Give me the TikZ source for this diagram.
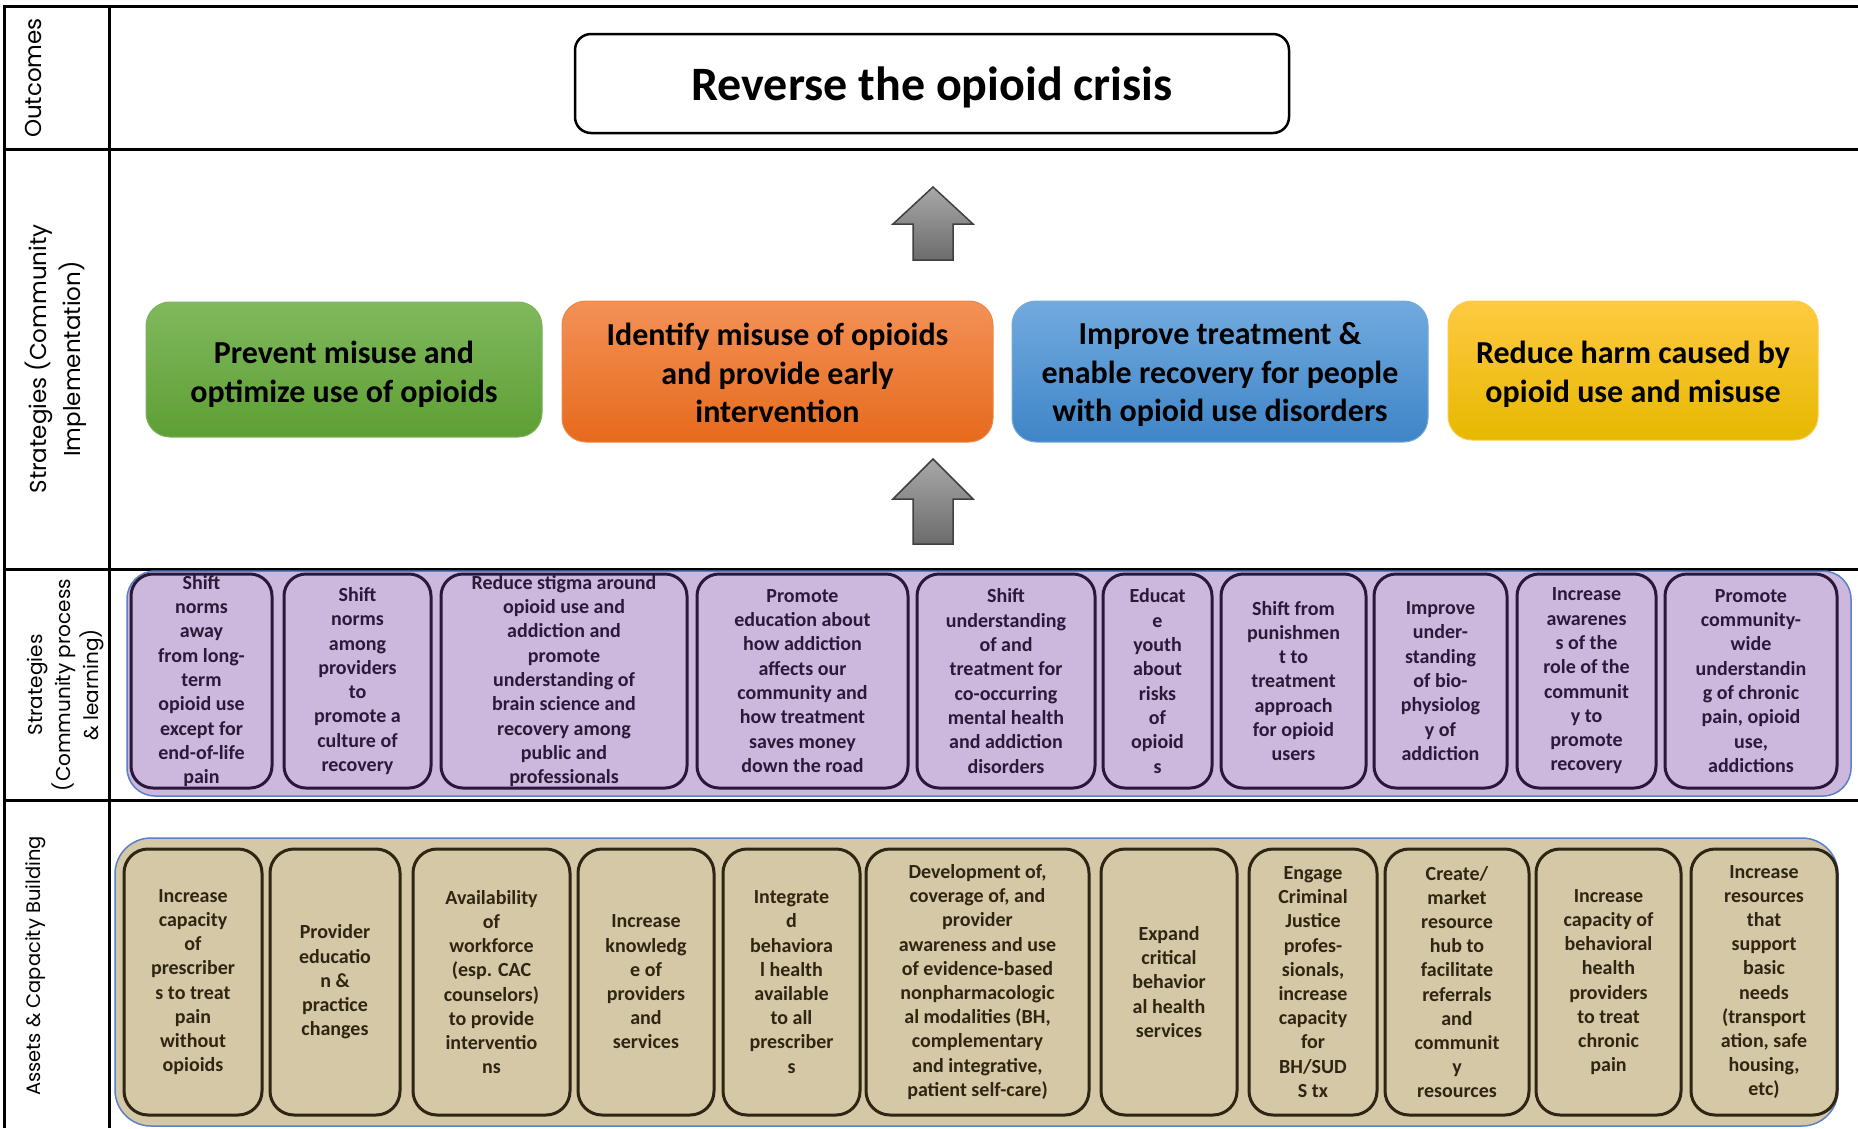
\documentclass[tikz,border=0pt]{standalone}
\usepackage{fontspec}
\setmainfont{Carlito}
\newfontfamily\sidefont{Poppins}
\usetikzlibrary{positioning}

\definecolor{pfill}{HTML}{CCB7DD}
\definecolor{pline}{HTML}{2B1838}
\definecolor{ptext}{HTML}{2A1A38}
\definecolor{tfill}{HTML}{D4C8A6}
\definecolor{tline}{HTML}{2E2512}
\definecolor{ttext}{HTML}{2E2612}
\definecolor{bandline}{HTML}{5B80C8}
\definecolor{arrtop}{HTML}{A8A8A8}
\definecolor{arrbot}{HTML}{6C6C6C}
\definecolor{greentop}{HTML}{80B95D}
\definecolor{greenbot}{HTML}{5E9F34}
\definecolor{orangetop}{HTML}{F39157}
\definecolor{orangebot}{HTML}{E66A1C}
\definecolor{bluetop}{HTML}{72AADF}
\definecolor{bluebot}{HTML}{3F85C7}
\definecolor{yellowtop}{HTML}{FFCA42}
\definecolor{yellowbot}{HTML}{E6B800}

\tikzset{
  rowline/.style={line width=3pt},
  sidelabel/.style={rotate=90, anchor=north, inner sep=0pt, align=center,
    font=\sidefont\fontsize{23}{34}\selectfont},
  outbox/.style={draw, line width=2.5pt, rounded corners=16pt, fill=white,
    minimum width=714pt, minimum height=99pt},
  outtext/.style={anchor=base, inner sep=0pt, font=\fontsize{48}{56}\selectfont\bfseries},
  stratbox/.style={rounded corners=24pt, line width=1pt, inner sep=0pt},
  strattext/.style={align=center, inner sep=0pt, font=\fontsize{32}{38.5}\selectfont\bfseries},
  band/.style={draw=bandline, line width=1.5pt},
  pbox/.style={draw=pline, fill=pfill, line width=3pt, rounded corners=22pt,
    minimum height=214pt, inner sep=0pt, align=center, text=ptext,
    font=\fontsize{20}{24.3}\selectfont\bfseries},
  tbox/.style={draw=tline, fill=tfill, line width=3pt, rounded corners=24pt,
    minimum height=266pt, inner sep=0pt, align=center, text=ttext,
    font=\fontsize{20}{24.2}\selectfont\bfseries},
  uparr/.style={draw=black!75, line width=1.5pt, top color=arrtop, bottom color=arrbot}
}

\begin{document}
\begin{tikzpicture}[x=1pt,y=-1pt]
    \useasboundingbox[fill=white] (0,0) rectangle (1858,1128);
    \draw[rowline] (1858,6) -- (4,6) -- (4,1128);
    \draw[rowline] (109,6) -- (109,1128);
    \foreach \y in {149,569,800}
        \draw[rowline] (4,\y) -- (1858,\y);

    \node[sidelabel] (lout) at (25,78) {Outcomes};
    \node[sidelabel] (limpl) at (25,359) {Strategies (Community\\Implementation)};
    \node[sidelabel, font=\sidefont\fontsize{20}{28}\selectfont] (lproc) at (27,685)
        {Strategies\\(Community process\\\& learning)};
    \node[sidelabel, font=\sidefont\fontsize{19.5}{28}\selectfont] (lasset) at (25,966)
        {Assets \& Capacity Building};

    \node[outbox] (crisis) at (932,83.5) {};
    \node[outtext] (crisistxt) at (932,100) {Reverse the opioid crisis};

    \node[stratbox, draw=greenbot!80, top color=greentop, bottom color=greenbot,
        minimum width=396pt, minimum height=135pt] (prevent) at (344,369.5) {};
    \node[strattext] (preventtxt) at ([yshift=-5pt]prevent.center)
        {Prevent misuse and\\optimize use of opioids};
    \node[stratbox, draw=orangebot!80, top color=orangetop, bottom color=orangebot,
        minimum width=431pt, minimum height=141pt] (identify) at (777.5,371.5) {};
    \node[strattext] (identifytxt) at ([yshift=-1.5pt]identify.center)
        {Identify misuse of opioids\\and provide early\\intervention};
    \node[stratbox, draw=bluebot!70, top color=bluetop, bottom color=bluebot,
        minimum width=416pt, minimum height=141pt] (treat) at (1220,371.5) {};
    \node[strattext] (treattxt) at ([yshift=-3pt]treat.center)
        {Improve treatment \&\\enable recovery for people\\with opioid use disorders};
    \node[stratbox, draw=yellowtop, top color=yellowtop, bottom color=yellowbot,
        minimum width=370pt, minimum height=139pt] (harm) at (1633,370.5) {};
    \node[strattext] (harmtxt) at ([yshift=-4pt]harm.center)
        {Reduce harm caused by\\opioid use and misuse};

    \coordinate (tip1) at (933,187);
    \coordinate (tip2) at (933,459);
    \draw[uparr] (tip1) -- ++(40,37) -- ++(-20,0) -- ++(0,36) -- ++(-40,0)
        -- ++(0,-36) -- ++(-20,0) -- cycle;
    \draw[uparr] (tip2) -- ++(40,40) -- ++(-20,0) -- ++(0,45) -- ++(-40,0)
        -- ++(0,-45) -- ++(-20,0) -- cycle;

    \draw[band, fill=pfill, rounded corners=28pt] (127,571) rectangle (1851,796);
    \node[pbox, minimum width=141pt] (p1) at (201.5,681)
        {Shift\\norms\\away\\from long-\\term\\opioid use\\except for\\end-of-life\\pain};
    \node[pbox, minimum width=147pt] (p2) at (357.5,681)
        {Shift\\norms\\among\\providers\\to\\promote a\\culture of\\recovery};
    \node[pbox, minimum width=246pt] (p3) at (564,681)
        {Reduce stigma around\\opioid use and\\addiction and\\promote\\understanding of\\brain science and\\recovery among\\public and\\professionals};
    \node[pbox, minimum width=211pt] (p4) at (802.5,681)
        {Promote\\education about\\how addiction\\affects our\\community and\\how treatment\\saves money\\down the road};
    \node[pbox, minimum width=178pt] (p5) at (1006,681)
        {Shift\\understanding\\of and\\treatment for\\co-occurring\\mental health\\and addiction\\disorders};
    \node[pbox, minimum width=109pt] (p6) at (1157.5,681)
        {Educat\\e\\youth\\about\\risks\\of\\opioid\\s};
    \node[pbox, minimum width=145pt] (p7) at (1293.5,681)
        {Shift from\\punishmen\\t to\\treatment\\approach\\for opioid\\users};
    \node[pbox, minimum width=133pt] (p8) at (1440.5,681)
        {Improve\\under-\\standing\\of bio-\\physiolog\\y of\\addiction};
    \node[pbox, minimum width=139pt] (p9) at (1586.5,681)
        {Increase\\awarenes\\s of the\\role of the\\communit\\y to\\promote\\recovery};
    \node[pbox, minimum width=172pt] (p10) at (1751,681)
        {Promote\\community-\\wide\\understandin\\g of chronic\\pain, opioid\\use,\\addictions};

    \draw[band, fill=tfill, rounded corners=36pt] (115,838) rectangle (1838,1126);
    \node[tbox, minimum width=138pt] (t1) at (193,982)
        {Increase\\capacity\\of\\prescriber\\s to treat\\pain\\without\\opioids};
    \node[tbox, minimum width=130pt] (t2) at (335,982)
        {Provider\\educatio\\n \&\\practice\\changes};
    \node[tbox, minimum width=157pt] (t3) at (491.5,982)
        {Availability\\of\\workforce\\(esp. CAC\\counselors)\\to provide\\interventio\\ns};
    \node[tbox, minimum width=136pt] (t4) at (646,982)
        {Increase\\knowledg\\e of\\providers\\and\\services};
    \node[tbox, minimum width=137pt] (t5) at (791.5,982)
        {Integrate\\d\\behaviora\\l health\\available\\to all\\prescriber\\s};
    \node[tbox, minimum width=223pt] (t6) at (977.5,982)
        {Development of,\\coverage of, and\\provider\\awareness and use\\of evidence-based\\nonpharmacologic\\al modalities (BH,\\complementary\\and integrative,\\patient self-care)};
    \node[tbox, minimum width=136pt] (t7) at (1169,982)
        {Expand\\critical\\behavior\\al health\\services};
    \node[tbox, minimum width=128pt] (t8) at (1313,982)
        {Engage\\Criminal\\Justice\\profes-\\sionals,\\increase\\capacity\\for\\BH/SUD\\S tx};
    \node[tbox, minimum width=144pt] (t9) at (1457,982)
        {Create/\\market\\resource\\hub to\\facilitate\\referrals\\and\\communit\\y\\resources};
    \node[tbox, minimum width=145pt] (t10) at (1608.5,982)
        {Increase\\capacity of\\behavioral\\health\\providers\\to treat\\chronic\\pain};
    \node[tbox, minimum width=146pt] (t11) at (1764,982)
        {Increase\\resources\\that\\support\\basic\\needs\\(transport\\ation, safe\\housing,\\etc)};
\end{tikzpicture}
\end{document}
